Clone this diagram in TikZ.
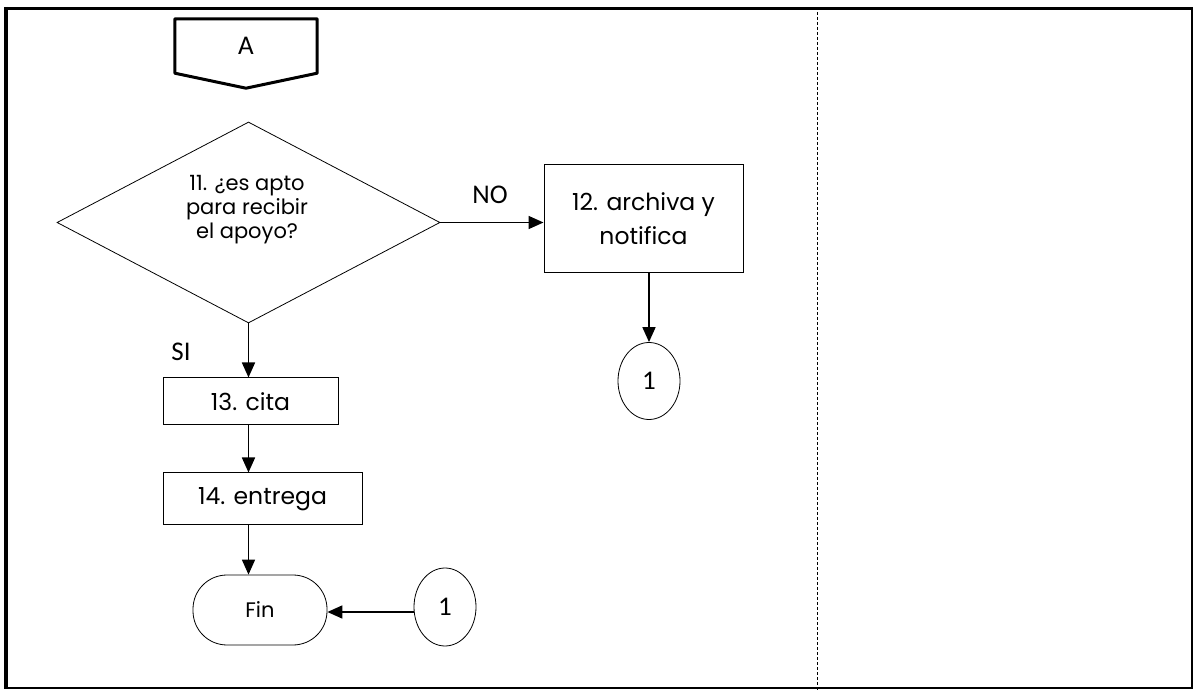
\documentclass[tikz,border=0pt]{standalone}
\usepackage{fontspec}
\setmainfont{Poppins}
\newfontfamily\calibri{Carlito}
\usetikzlibrary{positioning, shapes.geometric, arrows.meta, calc}

\begin{document}
\begin{tikzpicture}[x=1pt, y=-1pt,
    proc/.style={draw, rectangle, line width=1pt, align=center, inner sep=0pt, font=\fontsize{23.5}{34}\selectfont},
    conn/.style={draw, ellipse, line width=0.8pt, inner sep=0pt, minimum width=62pt, minimum height=77pt, font=\calibri\fontsize{27}{27}\selectfont},
    flow/.style={-{Triangle[length=15pt, width=13pt]}, line width=1.7pt},
    lbl/.style={font=\calibri\fontsize{27}{27}\selectfont}]
    \useasboundingbox (0,0) rectangle (1195,692);
    % marco
    \draw[line width=3pt] (4,9) -- (1193,9);
    \draw[line width=4pt] (6,7) -- (6,689);
    \draw[line width=2pt] (1192,8) -- (1192,689);
    \draw[line width=1.5pt] (5,688) -- (1193,688);
    \draw[dash pattern=on 3pt off 2pt, line width=0.8pt] (817,12) -- (817,692);
    % conector A
    \node[minimum width=142pt, minimum height=54pt, font=\calibri\fontsize{27}{27}\selectfont] (offA) at (246,46) {A};
    \draw[line width=3pt, line join=round] (offA.north west) -- (offA.north east) -- (offA.south east) -- ($(offA.south)+(0,15)$) -- (offA.south west) -- cycle;
    % decision
    \node[draw, diamond, line width=0.8pt, minimum width=383pt, minimum height=201pt, aspect=1.9, inner sep=0pt] (apto) at (248.5,222.5) {};
    \node[align=center, font=\fontsize{21}{24}\selectfont] (aptotxt) at (247,210) {11. ¿es apto\\para recibir\\el apoyo?};
    \node[proc, minimum width=199pt, minimum height=108pt] (archiva) at (643.5,219) {12. archiva y\\notifica};
    \node[conn] (uno) at (649,381) {1};
    \node[proc, minimum width=175pt, minimum height=47pt] (cita) at (250.5,401.5) {13. cita};
    \node[proc, minimum width=199pt, minimum height=52pt] (entrega) at (262.5,499) {14. entrega};
    \node[draw, rectangle, rounded corners=34pt, line width=0.8pt, minimum width=134pt, minimum height=70pt, font=\fontsize{21}{21}\selectfont] (fin) at (260,610) {Fin};
    \node[conn, minimum height=78pt] (unob) at (445,607) {1};
    % etiquetas
    \node[lbl] (no) at (490,195) {NO};
    \node[lbl] (si) at (181,352) {SI};
    % flechas
    \draw[flow] (apto.east) -- (apto.east -| archiva.west);
    \draw[flow] (archiva.south -| uno.north) -- (uno.north);
    \draw[flow] (apto.south) -- (apto.south |- cita.north);
    \draw[flow] (apto.south |- cita.south) -- (apto.south |- entrega.north);
    \draw[flow] (apto.south |- entrega.south) -- (apto.south |- fin.north);
    \draw[flow] (unob.west |- 0,612) -- (fin.east |- 0,612);
\end{tikzpicture}
\end{document}
